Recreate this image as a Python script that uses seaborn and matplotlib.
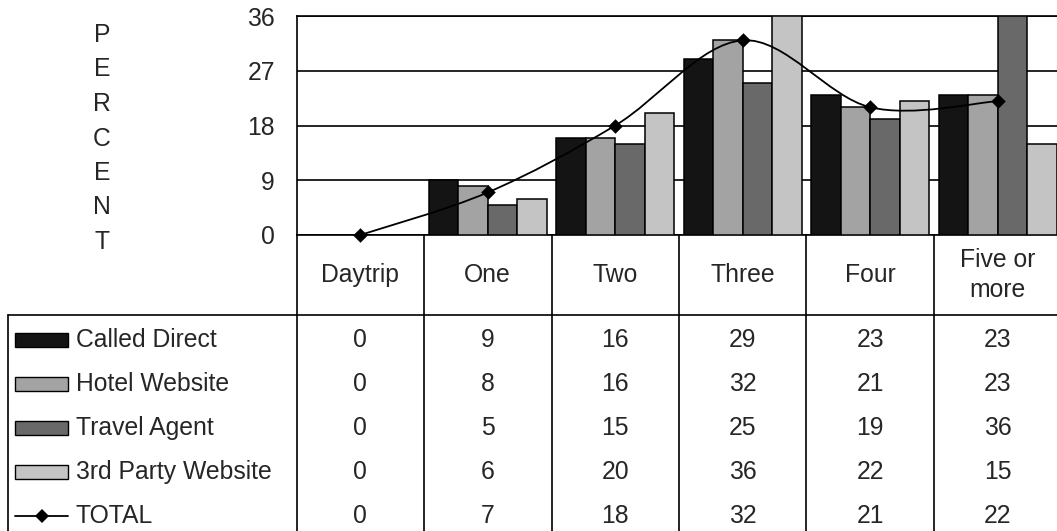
import numpy as np
import pandas as pd
import matplotlib
matplotlib.use("Agg")
import matplotlib.pyplot as plt
import matplotlib.transforms as mtrans
from matplotlib.path import Path
from matplotlib.patches import PathPatch, Rectangle
import seaborn as sns

# ---------------- data ----------------
categories = ["Daytrip", "One", "Two", "Three", "Four", "Five or\nmore"]
series = ["Called Direct", "Hotel Website", "Travel Agent", "3rd Party Website"]
called_direct = [0, 9, 16, 29, 23, 23]
hotel_website = [0, 8, 16, 32, 21, 23]
travel_agent = [0, 5, 15, 25, 19, 36]
third_party = [0, 6, 20, 36, 22, 15]
total = [0, 7, 18, 32, 21, 22]
y_ticks = [0, 9, 18, 27, 36]
axis_letters = list("PERCENT")

colors = ["#141414", "#a3a3a3", "#696969", "#c4c4c4"]

sns.set_style("white")
plt.rcParams["font.family"] = ["Liberation Sans", "DejaVu Sans"]
FS = 17.8

W, H = 1057, 531
fig = plt.figure(figsize=(W / 100, H / 100), dpi=100)

# pixel-geometry helpers
left_px, right_px, top_px, bot_px = 296.5, 1061.5, 16, 235
ax = fig.add_axes([left_px / W, 1 - bot_px / H, (right_px - left_px) / W, (bot_px - top_px) / H])
ov = fig.add_axes([0, 0, 1, 1], zorder=-1)
ov.set_xlim(0, W)
ov.set_ylim(H, 0)
ov.axis("off")

vals = [called_direct, hotel_website, travel_agent, third_party]
rows = []
for s, v in zip(series, vals):
    for c, x in zip(categories, v):
        rows.append({"cat": c, "series": s, "val": x})
df = pd.DataFrame(rows)

sns.barplot(data=df, x="cat", y="val", hue="series", order=categories,
            hue_order=series, palette=colors, saturation=1, width=0.925,
            edgecolor="black", linewidth=1.1, legend=False, ax=ax, zorder=3)

# smoothed TOTAL line (Catmull-Rom style Bezier through the data points)
xs = np.arange(len(total), dtype=float)
ys = np.array(total, dtype=float)
pts = np.column_stack([xs, ys])
verts = [tuple(pts[0])]
codes = [Path.MOVETO]
n = len(pts)
for i in range(n - 1):
    p0 = pts[max(i - 1, 0)]
    p1 = pts[i]
    p2 = pts[i + 1]
    p3 = pts[min(i + 2, n - 1)]
    c1 = p1 + (p2 - p0) / 6.0
    c2 = p2 - (p3 - p1) / 6.0
    verts += [tuple(c1), tuple(c2), tuple(p2)]
    codes += [Path.CURVE4] * 3
ax.add_patch(PathPatch(Path(verts, codes), fill=False, edgecolor="black",
                       linewidth=1.3, zorder=5, clip_on=False))
sns.scatterplot(x=xs, y=ys, marker="D", s=55, color="black", edgecolor="black",
                linewidth=0, ax=ax, zorder=6, clip_on=False, legend=False)

ax.set_xlim(-0.5, len(categories) - 0.5)
ax.set_ylim(0, 36)
ax.set_yticks(y_ticks)
ax.set_yticklabels([str(t) for t in y_ticks], fontsize=FS)
ax.set_xticks([])
ax.set_xlabel("")
ax.set_ylabel("")
ax.yaxis.grid(True, color="black", linewidth=1.2, zorder=0)
ax.set_axisbelow(True)
ax.tick_params(axis="y", direction="out", length=6.5, width=1.2, color="black", pad=9)
for side in ["left", "top", "bottom"]:
    ax.spines[side].set_visible(True)
    ax.spines[side].set_color("black")
    ax.spines[side].set_linewidth(1.2)
ax.spines["right"].set_visible(False)
ax.patch.set_alpha(0)

# "PERCENT" vertical label
for k, ch in enumerate(axis_letters):
    ov.text(102, 35 + k * 34.5, ch, fontsize=FS, ha="center", va="center")

# ---------------- data table ----------------
bt = mtrans.blended_transform_factory(ax.transData, ov.transData)
lw = 1.2
for i in range(len(categories) + 1):
    xb = i - 0.5
    ov.plot([xb, xb], [235, H + 2], color="black", lw=lw, transform=bt, clip_on=False)
ov.plot([8, W + 5], [315, 315], color="black", lw=lw, clip_on=False)
ov.plot([8, 8], [315, H + 2], color="black", lw=lw, clip_on=False)

for i, c in enumerate(categories):
    ov.text(i, 275, c, fontsize=FS, ha="center", va="center", transform=bt,
            linespacing=1.35)

row_y = [340, 384, 428, 472, 516]
for r, (s, v, col) in enumerate(zip(series, vals, colors)):
    y = row_y[r]
    ov.add_patch(Rectangle((15, y - 7), 53, 14, facecolor=col, edgecolor="black", lw=1.0))
    ov.text(76, y, s, fontsize=FS, ha="left", va="center")
    for i, x in enumerate(v):
        ov.text(i, y, str(x), fontsize=FS, ha="center", va="center", transform=bt)

y = row_y[4]
ov.plot([15, 68], [y, y], color="black", lw=1.3)
ov.plot([41.5], [y], marker="D", ms=7.2, color="black", mew=0)
ov.text(76, y, "TOTAL", fontsize=FS, ha="left", va="center")
for i, x in enumerate(total):
    ov.text(i, y, str(x), fontsize=FS, ha="center", va="center", transform=bt)

fig.savefig("out.png", dpi=100)
